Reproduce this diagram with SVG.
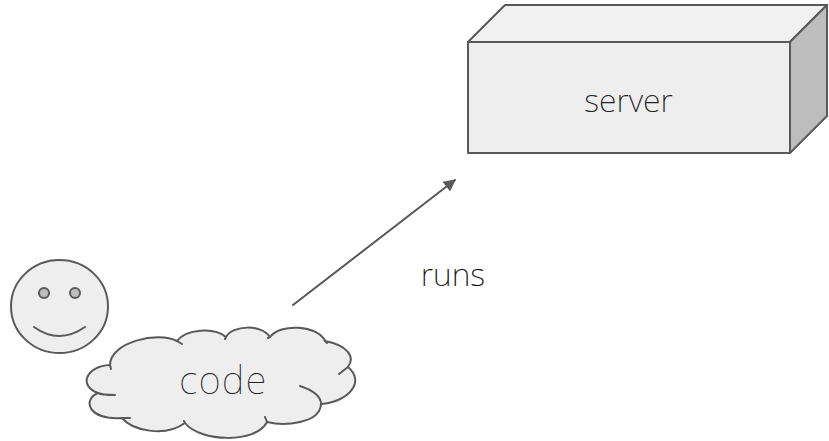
<svg xmlns="http://www.w3.org/2000/svg" width="829" height="441" viewBox="0 0 829 441">
<style>
.s{stroke:#595959;stroke-width:2;stroke-linejoin:round;stroke-linecap:round}
.f{fill:#eeeeee}
.n{fill:none}
.t{font-family:"Noto Sans",sans-serif;font-weight:200;fill:#222222;text-anchor:middle}
</style>
<defs><marker id="a" viewBox="0 0 10 10" refX="9" refY="5" markerWidth="6.500" markerHeight="6" orient="auto" markerUnits="strokeWidth"><path d="M0 0L10 5L0 10Z" fill="#595959"/></marker></defs>
<rect width="829" height="441" fill="#fff"/>
<g id="server">
<path class="s f" d="M468 42L505 5H827L790 42Z" style="fill:#f1f1f1"/>
<path class="s" d="M790 42L827 5V116L790 153Z" fill="#bdbdbd"/>
<rect class="s f" x="468" y="42" width="322" height="111"/>
<text class="t" x="628.500" y="112" font-size="32">server</text>
</g>
<g id="person">
<ellipse class="s f" cx="59.500" cy="306.500" rx="48.500" ry="46.500"/>
<circle class="s" cx="44" cy="293" r="5" fill="#bdbdbd"/>
<circle class="s" cx="75" cy="293" r="5" fill="#bdbdbd"/>
<path class="s n" d="M34 327Q59 345 85 327"/>
</g>
<g id="code">
<path class="s f" d="M110 365C110 342 158 331 177 341C186 329 214 327 226 337C232 325 262 324 270 337C280 323 318 325 325 341C346 345 356 356 348 367C366 382 348 402 321 404C320 424 284 426 267 422C256 444 200 442 185 423C164 438 132 430 122 418C88 420 82 400 98 393C78 386 86 366 110 365Z"/>
<path class="s n" d="M177 341L182 344M226 337L225 339M270 337L268 338M325 341L327 343M348 367L339 374M300 386C312 390 321 396 321 404M122 418L130 418M98 393C102 395 108 395 115 395M110 365L111 369M267 422L265 417M185 423L184 421"/>
<text class="t" x="223.500" y="394" font-size="38" style="font-weight:100" letter-spacing="1.500">code</text>
</g>
<g id="connectors">
<line class="s" x1="293" y1="305" x2="455" y2="180" marker-end="url(#a)"/>
</g>
<text class="t" x="453" y="286" font-size="32" style="font-weight:250;fill:#111">runs</text>
</svg>
